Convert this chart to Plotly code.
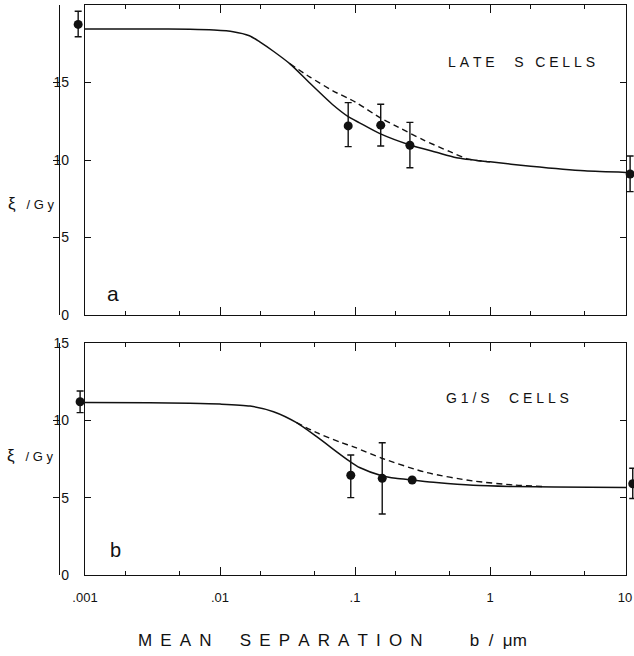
import plotly.graph_objects as go

# ---------------- data ----------------
# Panel a (LATE S cells)
a_solid_x = [0.001, 0.003, 0.006, 0.009, 0.0125, 0.0165, 0.0197, 0.025, 0.033, 0.0464, 0.0688, 0.089, 0.108,
             0.153, 0.255, 0.4, 0.565, 1.0, 2.0, 5.0, 10.2]
a_solid_y = [18.45, 18.45, 18.43, 18.38, 18.28, 18.02, 17.62, 17.0, 16.2, 14.95, 13.55, 12.8, 12.4,
             11.7, 10.97, 10.5, 10.15, 9.88, 9.6, 9.3, 9.2]
a_dash_x = [0.033, 0.0464, 0.069, 0.1, 0.155, 0.2, 0.32, 0.5, 0.69, 1.0]
a_dash_y = [16.2, 15.35, 14.45, 13.75, 12.7, 12.2, 11.3, 10.55, 10.06, 9.88]
a_pts_x = [0.00089, 0.089, 0.155, 0.255, 10.9]
a_pts_y = [18.75, 12.2, 12.25, 10.95, 9.1]
a_err_plus = [0.85, 1.5, 1.35, 1.48, 1.16]
a_err_minus = [0.8, 1.34, 1.35, 1.45, 1.14]

# Panel b (G1/S cells)
b_solid_x = [0.001, 0.003, 0.006, 0.01, 0.0167, 0.0249, 0.0369, 0.052, 0.0775, 0.093, 0.108, 0.158,
             0.2, 0.265, 0.4, 0.75, 1.5, 3.0, 10.2]
b_solid_y = [11.15, 11.13, 11.1, 11.05, 10.92, 10.56, 9.85, 8.94, 7.8, 7.3, 6.95, 6.42,
             6.25, 6.14, 5.98, 5.8, 5.72, 5.69, 5.65]
b_dash_x = [0.0369, 0.052, 0.077, 0.1, 0.158, 0.34, 0.75, 1.5, 2.5]
b_dash_y = [9.85, 9.2, 8.6, 8.25, 7.55, 6.62, 6.08, 5.82, 5.72]
b_pts_x = [0.00092, 0.093, 0.159, 0.265, 11.4]
b_pts_y = [11.2, 6.45, 6.25, 6.14, 5.9]
b_err_plus = [0.7, 1.31, 2.3, 0.0, 1.0]
b_err_minus = [0.7, 1.45, 2.31, 0.0, 0.95]

x_tickvals = [0.001, 0.01, 0.1, 1, 10]
x_ticktext = [".001", ".01", ".1", "1", "10"]
x_minorvals = [0.002, 0.005, 0.02, 0.05, 0.2, 0.5, 2, 5]
ya_tickvals = [0, 5, 10, 15]
yb_tickvals = [0, 5, 10, 15]

# ---------------- figure ----------------
W, H = 634, 656
FONT = "Liberation Sans, Arial, sans-serif"
NB = "\u00a0"
TH = "\u2009"


def spaced(word, gap):
    return gap.join(list(word))


# frame geometry (pixels)
L_PX, R_PX = 85, 626
XR = [-3, 1.007]
PPD = (R_PX - L_PX) / (XR[1] - XR[0])  # pixels per decade
WL_PX, WR_PX = 60, 634  # wider invisible axes for edge points
XR_WIDE = [XR[0] - (L_PX - WL_PX) / PPD, XR[1] + (WR_PX - R_PX) / PPD]

fig = go.Figure()

line_solid = dict(color="#111", width=1.5, shape="spline", smoothing=0.7)
line_dash = dict(color="#111", width=1.4, dash="6px,4px", shape="spline", smoothing=0.7)

for xs, ys, ax, ay in [(a_solid_x, a_solid_y, "x", "y"), (b_solid_x, b_solid_y, "x2", "y2")]:
    fig.add_trace(go.Scatter(x=xs, y=ys, mode="lines", line=line_solid, xaxis=ax, yaxis=ay,
                             showlegend=False, hoverinfo="skip"))
for xs, ys, ax, ay in [(a_dash_x, a_dash_y, "x", "y"), (b_dash_x, b_dash_y, "x2", "y2")]:
    fig.add_trace(go.Scatter(x=xs, y=ys, mode="lines", line=line_dash, xaxis=ax, yaxis=ay,
                             showlegend=False, hoverinfo="skip"))

for xs, ys, ep, em, ax, ay in [(a_pts_x, a_pts_y, a_err_plus, a_err_minus, "x3", "y"),
                                (b_pts_x, b_pts_y, b_err_plus, b_err_minus, "x4", "y2")]:
    fig.add_trace(go.Scatter(
        x=xs, y=ys, mode="markers", xaxis=ax, yaxis=ay, cliponaxis=False,
        marker=dict(size=9, color="#111"),
        error_y=dict(type="data", symmetric=False, array=ep, arrayminus=em,
                     thickness=1.4, width=3.5, color="#111"),
        showlegend=False))

xl, xr = L_PX / W, R_PX / W
ya_dom = [1 - 315 / H, 1 - 5 / H]
yb_dom = [1 - 575 / H, 1 - 343 / H]

common_x = dict(type="log", range=XR, domain=[xl, xr], showline=True, linecolor="#111",
                linewidth=1.3, mirror="allticks", ticks="inside", ticklen=8, tickwidth=1.3,
                tickcolor="#111", tickvals=x_tickvals, ticktext=x_ticktext, showgrid=False,
                zeroline=False, automargin=False,
                minor=dict(tickvals=x_minorvals, ticks="inside", ticklen=4, tickwidth=1.2,
                           tickcolor="#111", showgrid=False),
                tickfont=dict(family=FONT, size=13, color="#111"))
wide_x = dict(type="log", range=XR_WIDE, domain=[WL_PX / W, WR_PX / W], visible=False,
              showgrid=False, zeroline=False, automargin=False)
common_y = dict(showline=True, linecolor="#111", linewidth=1.3, mirror="allticks", ticks="inside",
                ticklen=6, tickwidth=1.3, tickcolor="#111", showgrid=False, zeroline=False,
                automargin=False,
                tickfont=dict(family=FONT, size=14, color="#111"), ticklabelstandoff=12)

fig.update_layout(
    width=W, height=H, autosize=False, margin=dict(l=0, r=0, t=0, b=0),
    paper_bgcolor="white", plot_bgcolor="rgba(0,0,0,0)",
    xaxis=dict(common_x, anchor="y", showticklabels=False),
    xaxis2=dict(common_x, anchor="y2", showticklabels=True, ticklabelstandoff=10),
    xaxis3=dict(wide_x, anchor="y"),
    xaxis4=dict(wide_x, anchor="y2"),
    yaxis=dict(common_y, domain=ya_dom, range=[0, 20], tickvals=ya_tickvals, anchor="x"),
    yaxis2=dict(common_y, domain=yb_dom, range=[0, 15], tickvals=yb_tickvals, anchor="x2"),
)

ylabel = '<span style="font-size:17px">\u03be</span>' + NB * 3 + "/" + NB + "G" + NB + "y"
annos = [
    dict(text=ylabel, x=6 / W, y=1 - 203 / H, size=13),
    dict(text=ylabel, x=5 / W, y=1 - 456 / H, size=13),
    dict(text="a", x=105 / W, y=1 - 293 / H, size=21),
    dict(text="b", x=108 / W, y=1 - 550 / H, size=20),
    dict(text=spaced("LATE", NB) + NB * 5 + "S" + NB * 3 + spaced("CELLS", NB),
         x=446 / W, y=1 - 62 / H, size=14),
    dict(text=spaced("G1/S", NB) + NB * 5 + spaced("CELLS", NB),
         x=444 / W, y=1 - 398 / H, size=14),
    dict(text=spaced("MEAN", NB + TH) + NB * 6 + spaced("SEPARATION", NB + TH) + NB * 10
         + "b" + NB * 2 + "/" + NB * 2 + "\u03bc" + "m",
         x=136 / W, y=1 - 640 / H, size=17),
]
for a in annos:
    fig.add_annotation(text=a["text"], x=a["x"], y=a["y"], xref="paper", yref="paper",
                       xanchor="left", yanchor="middle", showarrow=False,
                       font=dict(family=FONT, size=a["size"], color="#111"))

fig.write_html("out.html")
